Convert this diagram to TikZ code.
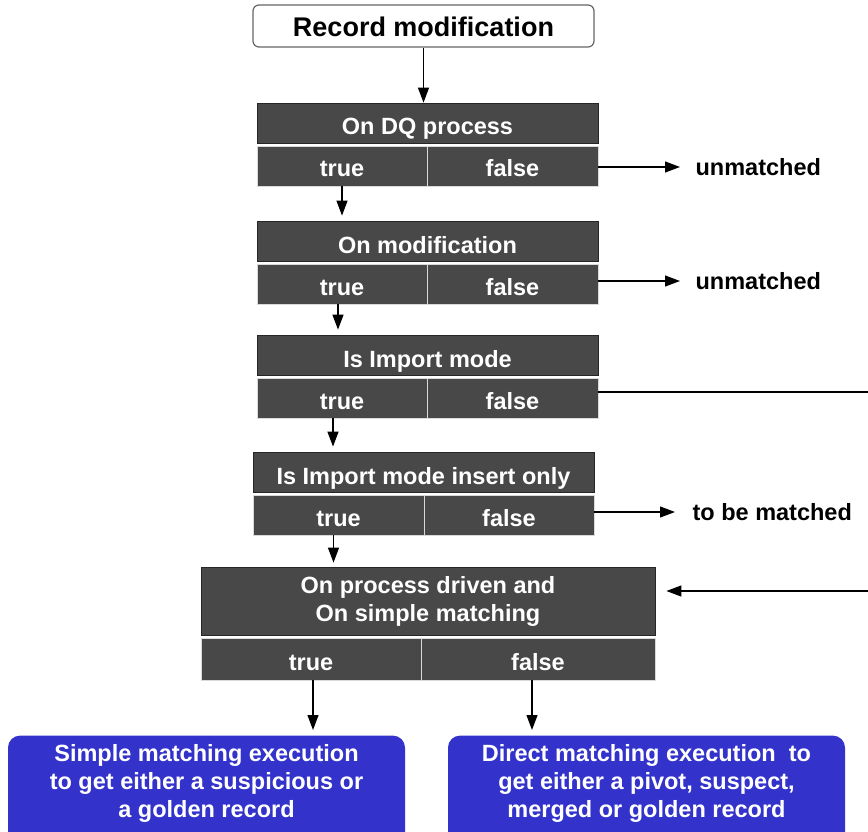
\documentclass[tikz,border=0pt]{standalone}
\usepackage{fontspec}
\setmainfont{Liberation Sans}
\usepackage{xcolor}
\usetikzlibrary{arrows.meta}
\definecolor{boxgray}{HTML}{484848}
\definecolor{resblue}{HTML}{3333CC}

\begin{document}
\begin{tikzpicture}[x=1pt, y=-1pt, line width=1.2pt,
    >={Triangle[length=15pt,width=11pt]},
    txt/.style   = {font=\bfseries\fontsize{23.5}{28}\selectfont},
    start/.style = {draw=black!60, fill=white, rounded corners=6pt, txt, font=\bfseries\fontsize{27}{32}\selectfont,
                    inner sep=0pt, minimum width=341pt, minimum height=42pt, text height=22pt, text depth=0pt},
    head/.style  = {draw=black!85, line width=0.8pt, fill=boxgray, text=white, txt, align=center,
                    inner sep=0pt, minimum width=341pt, minimum height=40pt},
    headone/.style = {head, text height=24pt, text depth=0pt},
    cell/.style  = {draw=gray!30, line width=0.8pt, fill=boxgray, text=white, txt,
                    inner sep=0pt, minimum height=40pt, text height=22pt, text depth=0pt},
    note/.style  = {txt, inner sep=0pt, anchor=west},
    resbox/.style = {fill=resblue, rounded corners=12pt, anchor=north,
                    minimum width=397pt, minimum height=115pt},
    restext/.style = {text=white, txt, align=center, inner sep=0pt}]
    \useasboundingbox (0,0) rectangle (868,832);

    \node[start] (rec) at (423.5,26) {Record modification};

    % first tests
    \node[headone] (head1)  at (427.5,123) {On DQ process};
    \node[cell, minimum width=170pt] (true1)  at (342,166)   {true};
    \node[cell, minimum width=171pt] (false1) at (512.5,166) {false};
    \node[headone] (head2)  at (427.5,241) {On modification};
    \node[cell, minimum width=170pt] (true2)  at (342,284)   {true};
    \node[cell, minimum width=171pt] (false2) at (512.5,284) {false};
    \node[headone] (head3)  at (427.5,355) {Is Import mode};
    \node[cell, minimum width=170pt] (true3)  at (342,398)   {true};
    \node[cell, minimum width=171pt] (false3) at (512.5,398) {false};
    \node[headone] (head4)  at (423.5,472) {Is Import mode insert only};
    \node[cell, minimum width=171pt] (true4)  at (338.5,515) {true};
    \node[cell, minimum width=170pt] (false4) at (509,515)   {false};

    % last test
    \node[head, minimum width=454pt, minimum height=68pt] (head5) at (428,601)
        {On process driven and\\On simple matching};
    \node[cell, minimum width=220pt, minimum height=42pt] (true5)  at (311,659) {true};
    \node[cell, minimum width=234pt, minimum height=42pt] (false5) at (538,659) {false};

    % outcomes
    \node[note] (unm1) at (695,167) {unmatched};
    \node[note] (unm2) at (695,281) {unmatched};
    \node[note] (tbm)  at (692,512) {to be matched};
    \coordinate (edgeA) at (868,392);
    \coordinate (edgeB) at (868,591);

    \node[resbox] (simplebox) at (206.5,735) {};
    \node[restext] (simple) at (206.5,783)
        {Simple matching execution\\to get either a suspicious or\\a golden record};
    \node[resbox] (directbox) at (646.5,735) {};
    \node[restext] (direct) at (646.5,783)
        {Direct matching execution~ to\\get either a pivot, suspect,\\merged or golden record};

    \draw[->] (rec.south) -- (rec.south |- head1.north);
    \draw[->, shorten >=5pt] (true1.south) -- (true1.south |- head2.north);
    \draw[->, shorten >=5pt] ([xshift=-4pt]true2.south) -- ([xshift=-4pt]true2.south |- head3.north);
    \draw[->, shorten >=5pt] ([xshift=-9pt]true3.south) -- ([xshift=-9pt]true3.south |- head4.north);
    \draw[->, shorten >=4pt] ([xshift=-5pt]true4.south) -- ([xshift=-5pt]true4.south |- head5.north);
    \draw[->, shorten >=5pt] ([xshift=2pt]true5.south) -- ([xshift=2pt]true5.south |- simplebox.north);
    \draw[->, shorten >=5pt] ([xshift=-6pt]false5.south) -- ([xshift=-6pt]false5.south |- directbox.north);
    \draw[->, shorten >=15pt] (false1.east |- unm1.west) -- (unm1.west);
    \draw[->, shorten >=15pt] (false2.east |- unm2.west) -- (unm2.west);
    \draw[->, shorten >=17pt] (false4.east |- tbm.west) -- (tbm.west);
    \draw (false3.east |- edgeA) -- (edgeA);
    \draw[->, shorten >=11pt] (edgeB) -- (edgeB -| head5.east);
\end{tikzpicture}
\end{document}
